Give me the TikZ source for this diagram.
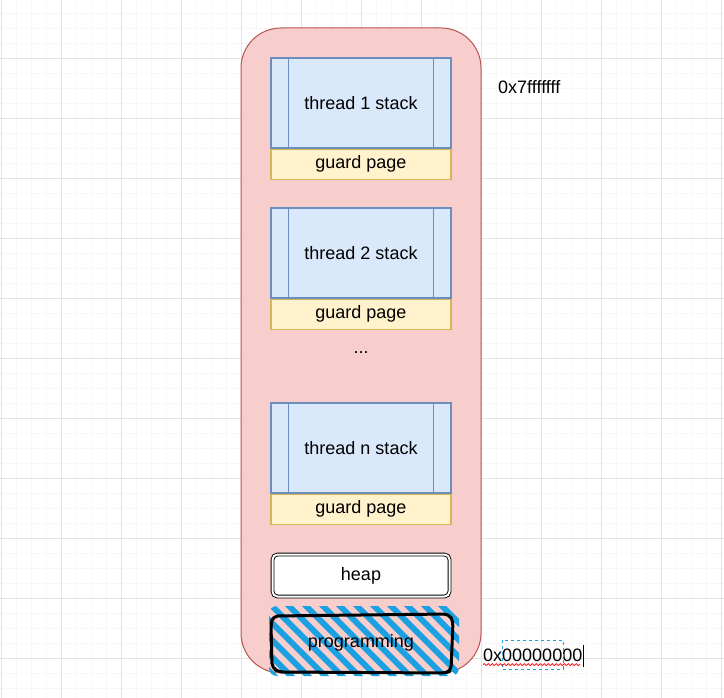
\documentclass[tikz,border=0pt]{standalone}
\usepackage{fontspec}
\setmainfont{Liberation Sans}
\usetikzlibrary{positioning}
\usetikzlibrary{decorations.pathmorphing}

\definecolor{memfill}{HTML}{F8CECC}
\definecolor{memline}{HTML}{B85450}
\definecolor{stackfill}{HTML}{DAE8FC}
\definecolor{stackline}{HTML}{6C8EBF}
\definecolor{guardfill}{HTML}{FFF2CC}
\definecolor{guardline}{HTML}{D6B656}
\definecolor{hatchblue}{HTML}{1BA1E2}

\begin{document}
\begin{tikzpicture}[x=1pt, y=-1pt,
    every node/.style={font=\fontsize{18}{21}\selectfont, text=black},
    membox/.style={draw=memline, fill=memfill, line width=1pt, rounded corners=40pt,
        minimum width=240pt, minimum height=645pt},
    stackbox/.style={draw=stackline, fill=stackfill, line width=1.2pt,
        minimum width=180pt, minimum height=90pt},
    guardbox/.style={draw=guardline, fill=guardfill, line width=1.2pt,
        minimum width=180pt, minimum height=30pt, inner sep=0pt},
    heapbox/.style={draw=black, fill=white, double=white, double distance=2pt,
        line width=0.9pt, rounded corners=5pt, minimum width=177pt, minimum height=42pt},
    hatchline/.style={draw=hatchblue, line width=6pt, line cap=round},
    minorline/.style={draw=black!3, line width=0.8pt},
    majorline/.style={draw=black!11, line width=0.8pt}]

                % background grid
                \fill[white](0, 0)rectangle(724, 698);
                \useasboundingbox(0, 0)rectangle(724, 698);
                \foreach \x in {1, 16, ..., 721}
                    \draw[minorline](\x, 0)--(\x, 698);
                \foreach \y in {13, 28, ..., 698}
                    \draw[minorline](0, \y)--(724, \y);
                \foreach \x in {1, 61, ..., 721}
                    \draw[majorline](\x, 0)--(\x, 698);
                \foreach \y in {58, 118, ..., 698}
                    \draw[majorline](0, \y)--(724, \y);

                \node[membox](mem) at (361, 350.5){};

                \foreach \n/\y in {1/103, 2/253, n/448}{
                    \node[stackbox](stack\n) at (361, \y){thread \n{} stack};
                    \node[guardbox, below=0pt of stack\n.south, anchor=north](guard\n){guard page};
                    \draw[stackline, line width=1.2pt]([xshift=18pt]stack\n.north west)--([xshift=18pt]stack\n.south west);
                    \draw[stackline, line width=1.2pt]([xshift=-18pt]stack\n.north east)--([xshift=-18pt]stack\n.south east);
                }
                \node(dots) at (361, 353){...};

                \node[heapbox](heap) at (361, 575.5){heap};

                % programming block, sketchy hatch
                \begin{scope}
                    \clip[rounded corners=8pt](269, 606)rectangle(459, 676);
                    \foreach \x in {198, 215, ..., 470}
                        \draw[hatchline](\x, 600)--++(80, 80);
                \end{scope}
                \draw[line width=3pt, line join=round, rounded corners=5pt]
                    (273, 616)--(449, 614)--(453, 621)--(451, 671)--(445, 673)--(279, 672)--(272, 668)--(271, 624)--cycle;
                \node(prog) at (361, 643){programming};

                \node[anchor=west, inner sep=0pt](top) at (498, 87){0x7fffffff};
                \node[anchor=west, inner sep=0pt](bottom) at (483, 655){0x00000000};
                \draw[hatchblue, dashed, line width=0.6pt](502, 640)rectangle(563, 669);
                \draw[red, line width=0.8pt, decorate, decoration={snake, amplitude=1pt, segment length=4pt}]
                    (bottom.south west)++(0, 3)--++(97, 0);
                \draw[black, line width=1pt](bottom.north east)++(1, -3)--++(0, 22);
            \end{tikzpicture}
\end{document}
